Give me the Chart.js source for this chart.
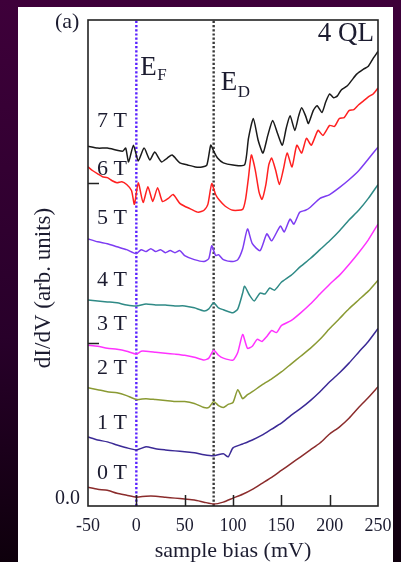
<!DOCTYPE html>
<html>
<head>
<meta charset="utf-8">
<script src="https://cdn.jsdelivr.net/npm/chart.js@4.4.0/dist/chart.umd.min.js"></script>
<style>
  html, body { margin: 0; padding: 0; background: #2a0028; }
  canvas { display: block; }
</style>
</head>
<body>
<canvas id="sts" width="401" height="562"></canvas>
<script>
// Tunneling spectra of a 4 QL film at increasing magnetic field (curves offset vertically).
const fieldLabels = ['0 T', '1 T', '2 T', '3 T', '4 T', '5 T', '6 T', '7 T'];
const E_F = 0;   // Fermi level, mV
const E_D = 80;  // Dirac point, mV
const biasTicks = [-50, 0, 50, 100, 150, 200, 250];

const bias0T = [-50,-40,-30,-20,-10,0,10,20,30,40,50,60,70,80,90,100,110,120,130,140,150,160,170,180,190,200,210,220,230,240,250];
const didv0T = [0.104,0.092,0.086,0.067,0.055,0.043,0.049,0.049,0.043,0.037,0.031,0.025,0.012,0.000,0.012,0.037,0.061,0.092,0.129,0.166,0.209,0.252,0.294,0.337,0.380,0.436,0.479,0.534,0.601,0.663,0.730];

const bias1T = [-50,-40,-30,-20,-10,0,10,20,30,40,50,60,70,80,90,95,100,110,120,130,140,150,160,170,180,190,200,210,220,230,240,250];
const didv1T = [0.417,0.399,0.387,0.368,0.350,0.337,0.356,0.344,0.337,0.331,0.325,0.319,0.307,0.301,0.313,0.294,0.350,0.374,0.399,0.429,0.466,0.503,0.552,0.595,0.644,0.699,0.761,0.816,0.877,0.945,1.012,1.092];

const bias2T = [-50,-40,-30,-20,-10,0,10,20,30,40,50,60,70,75,80,85,90,95,100,105,110,115,120,130,140,150,160,170,180,190,200,210,220,230,240,250];
const didv2T = [0.724,0.712,0.699,0.693,0.675,0.650,0.656,0.650,0.644,0.638,0.638,0.626,0.601,0.601,0.638,0.613,0.601,0.620,0.632,0.712,0.656,0.681,0.699,0.742,0.779,0.822,0.871,0.920,0.969,1.025,1.092,1.153,1.215,1.270,1.325,1.393];

const bias3T = [-50,-40,-30,-20,-10,0,5,10,20,30,40,50,60,70,75,80,85,90,100,105,110,115,120,125,130,135,140,145,150,160,170,180,190,200,210,220,230,240,250];
const didv3T = [0.988,0.982,0.969,0.963,0.951,0.933,0.951,0.951,0.945,0.939,0.933,0.926,0.914,0.896,0.908,0.957,0.926,0.908,0.896,0.945,1.055,0.969,0.982,1.025,1.012,1.043,1.080,1.067,1.110,1.141,1.190,1.245,1.307,1.368,1.423,1.491,1.564,1.644,1.742];

const bias4T = [-50,-40,-30,-20,-10,0,10,20,30,40,50,60,70,75,80,85,90,100,105,110,112,117,122,128,133,138,143,150,160,170,180,190,200,210,220,230,240,250];
const didv4T = [1.270,1.264,1.258,1.252,1.239,1.233,1.245,1.239,1.239,1.233,1.233,1.221,1.202,1.215,1.252,1.221,1.209,1.190,1.215,1.313,1.356,1.301,1.264,1.313,1.307,1.344,1.331,1.380,1.423,1.479,1.528,1.583,1.638,1.699,1.767,1.828,1.902,1.988];

const bias5T = [-50,-40,-30,-20,-10,0,5,10,15,20,25,30,35,40,45,50,60,70,75,78,82,85,90,100,105,110,115,120,128,135,140,149,153,159,163,169,175,180,190,200,210,220,230,240,250];
const didv5T = [1.650,1.632,1.620,1.601,1.583,1.558,1.583,1.571,1.589,1.571,1.583,1.564,1.577,1.564,1.577,1.546,1.521,1.509,1.528,1.607,1.546,1.552,1.521,1.509,1.521,1.589,1.712,1.620,1.577,1.681,1.638,1.730,1.693,1.773,1.742,1.816,1.828,1.847,1.902,1.926,1.969,2.018,2.074,2.147,2.221];

const bias6T = [-50,-45,-40,-35,-30,-25,-20,-15,-10,-5,-2,2,7,12,17,22,27,33,38,45,50,57,64,70,74,78,82,86,92,100,110,113,116,119,123,127,130,134,137,140,144,148,152,156,161,166,171,176,181,188,193,200,205,210,215,220,225,230,235,240,245,250];
const didv6T = [2.098,2.074,2.055,2.037,2.031,2.012,2.000,2.006,1.988,1.951,1.865,2.000,1.877,1.975,1.883,1.969,1.883,1.902,1.926,1.871,1.853,1.834,1.816,1.828,1.865,1.994,1.926,1.890,1.853,1.828,1.834,1.896,2.031,2.172,2.080,1.939,1.896,1.988,2.110,2.153,2.080,1.988,2.080,2.184,2.098,2.233,2.184,2.276,2.233,2.325,2.294,2.356,2.350,2.399,2.405,2.448,2.454,2.485,2.509,2.534,2.552,2.589];

const bias7T = [-50,-40,-30,-20,-14,-11,-8,-3,2,8,14,19,26,32,37,45,53,61,68,73,77,80,84,90,100,112,116,121,126,131,136,141,146,151,155,159,164,168,171,175,178,183,187,192,196,200,204,208,212,218,223,228,235,240,245,250];
const didv7T = [2.227,2.215,2.215,2.202,2.196,2.215,2.129,2.233,2.135,2.215,2.141,2.190,2.129,2.153,2.172,2.123,2.110,2.098,2.098,2.110,2.233,2.196,2.153,2.123,2.110,2.110,2.276,2.399,2.264,2.184,2.294,2.387,2.307,2.233,2.337,2.417,2.325,2.417,2.466,2.417,2.368,2.448,2.479,2.436,2.503,2.552,2.528,2.540,2.577,2.601,2.638,2.675,2.706,2.724,2.773,2.816];

const biasSets = [bias0T, bias1T, bias2T, bias3T, bias4T, bias5T, bias6T, bias7T];
const didvSets = [didv0T, didv1T, didv2T, didv3T, didv4T, didv5T, didv6T, didv7T];
const curveColors = ['#8b2c2c', '#3b2a96', '#8a9a33', '#ff33ff', '#2f8a86', '#7d3cf2', '#ff2020', '#1a1a1a'];

const Y_MIN = -0.012, Y_MAX = 3.012;
const serif = "'Liberation Serif', 'Times New Roman', serif";
const ink = '#1c1c30';

const curves = fieldLabels.map((name, i) => ({
  label: name,
  data: biasSets[i].map((b, k) => ({ x: b, y: didvSets[i][k] })),
  borderColor: curveColors[i],
  borderWidth: 1.5,
  pointRadius: 0,
  tension: 0.2,
  fill: false
}));

const markerLine = (name, at, color) => ({
  label: name,
  data: [{ x: at, y: Y_MIN }, { x: at, y: Y_MAX }],
  borderColor: color,
  borderWidth: 2.4,
  borderDash: [2.2, 2],
  pointRadius: 0,
  fill: false
});

// page backdrop and white figure panel
const backdrop = {
  id: 'backdrop',
  beforeDraw(chart) {
    const { ctx, width, height } = chart;
    ctx.save();
    const g = ctx.createLinearGradient(0, 0, 0, height);
    g.addColorStop(0, '#3e003a');
    g.addColorStop(0.6, '#28002a');
    g.addColorStop(1, '#0e000c');
    ctx.fillStyle = g;
    ctx.fillRect(0, 0, width, height);
    ctx.fillStyle = '#ffffff';
    ctx.fillRect(18, 7, 375, height - 7);
    ctx.restore();
  }
};

// panel text, frame and inward tick marks
const labelBaselines = [479, 429, 374, 330, 286, 224, 175, 127];
const decorations = {
  id: 'decorations',
  beforeDatasetsDraw(chart) {
    const { ctx } = chart;
    const xs = chart.scales.x;
    ctx.save();
    ctx.fillStyle = ink;
    ctx.textAlign = 'left';
    ctx.textBaseline = 'alphabetic';
    ctx.font = `22px ${serif}`;
    fieldLabels.forEach((t, i) => ctx.fillText(t, 97, labelBaselines[i]));
    ctx.fillText('(a)', 55, 28);

    ctx.textAlign = 'right';
    ctx.font = `27px ${serif}`;
    ctx.fillText('4 QL', 374, 41);

    ctx.textAlign = 'left';
    const ef = xs.getPixelForValue(E_F);
    const ed = xs.getPixelForValue(E_D);
    ctx.font = `27px ${serif}`;
    ctx.fillText('E', ef + 4, 75);
    ctx.fillText('E', ed + 7, 90);
    ctx.font = `17px ${serif}`;
    ctx.fillText('F', ef + 21, 80);
    ctx.fillText('D', ed + 24, 97);

    ctx.translate(44, 288);
    ctx.rotate(-Math.PI / 2);
    ctx.textAlign = 'center';
    ctx.textBaseline = 'middle';
    ctx.font = `23px ${serif}`;
    ctx.fillText('dI/dV (arb. units)', 0, 0);
    ctx.restore();
  },
  afterDatasetsDraw(chart) {
    const { ctx, chartArea: a } = chart;
    const xs = chart.scales.x, ys = chart.scales.y;
    ctx.save();
    ctx.strokeStyle = '#222';
    ctx.lineWidth = 1.5;
    ctx.beginPath();
    biasTicks.slice(1, -1).forEach(v => {
      const px = Math.round(xs.getPixelForValue(v)) + 0.5;
      ctx.moveTo(px, a.bottom);
      ctx.lineTo(px, a.bottom - 11);
    });
    [1, 2].forEach(v => {
      const py = Math.round(ys.getPixelForValue(v)) + 0.5;
      ctx.moveTo(a.left, py);
      ctx.lineTo(a.left + 11, py);
    });
    ctx.stroke();
    ctx.lineWidth = 1.6;
    ctx.strokeRect(a.left, a.top, a.right - a.left, a.bottom - a.top);
    ctx.restore();
  }
};

new Chart(document.getElementById('sts'), {
  type: 'line',
  data: {
    datasets: [...curves, markerLine('E_F', E_F, '#5a22ff'), markerLine('E_D', E_D, '#3a3a3a')]
  },
  options: {
    responsive: false,
    animation: false,
    devicePixelRatio: 1,
    layout: { padding: { left: 0, top: 13, right: 23, bottom: 0 } },
    plugins: { legend: { display: false }, tooltip: { enabled: false } },
    scales: {
      x: {
        type: 'linear',
        min: -50,
        max: 250,
        afterFit: s => { s.height = 56; },
        afterBuildTicks: s => { s.ticks = biasTicks.map(v => ({ value: v })); },
        grid: { display: false, drawTicks: false },
        border: { display: false },
        ticks: {
          padding: 9,
          maxRotation: 0,
          color: ink,
          font: { family: serif, size: 18 },
          callback: v => String(v)
        },
        title: {
          display: true,
          text: 'sample bias (mV)',
          color: ink,
          font: { family: serif, size: 22, lineHeight: 1 },
          padding: { top: 0, bottom: 0 }
        }
      },
      y: {
        type: 'linear',
        min: Y_MIN,
        max: Y_MAX,
        afterFit: s => { s.width = 88; },
        afterBuildTicks: s => { s.ticks = [{ value: 0 }]; },
        grid: { display: false, drawTicks: false },
        border: { display: false },
        ticks: {
          padding: 8,
          labelOffset: -5,
          color: ink,
          font: { family: serif, size: 20 },
          callback: v => (v === 0 ? '0.0' : '')
        }
      }
    }
  },
  plugins: [backdrop, decorations]
});
</script>
</body>
</html>
